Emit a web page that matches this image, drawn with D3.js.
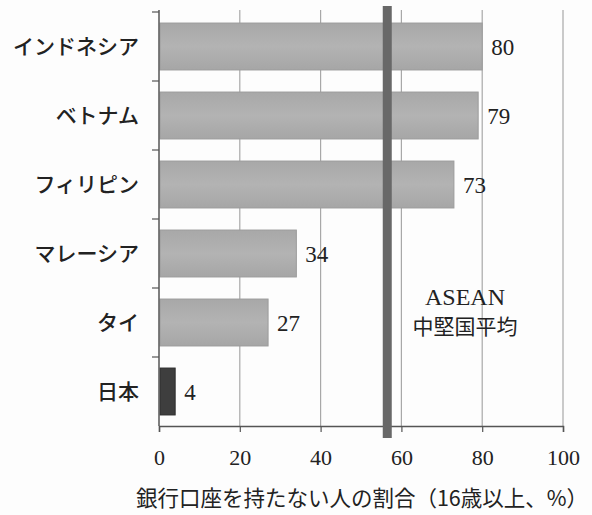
<!DOCTYPE html>
<html>
<head>
<meta charset="utf-8">
<script src="https://cdn.jsdelivr.net/npm/d3@7"></script>
<style>
  html, body { margin: 0; padding: 0; background: #fdfdfd; }
  svg { display: block; }
</style>
</head>
<body>
<svg id="chart" width="592" height="515"></svg>
<script>
// Share of people aged 16+ without a bank account (%)
const countries = ["インドネシア", "ベトナム", "フィリピン", "マレーシア", "タイ", "日本"];
const values = [80, 79, 73, 34, 27, 4];
const highlight = ["日本"];
const aseanAverage = 56.5;
const aseanLabel = ["ASEAN", "中堅国平均"];
const xTicks = [0, 20, 40, 60, 80, 100];
const xTitle = "銀行口座を持たない人の割合（16歳以上、%）";

const svg = d3.select("#chart");
const margin = { left: 159, right: 29, top: 12, bottom: 89 };
const W = 592, H = 515;

const x = d3.scaleLinear().domain([0, 100]).range([margin.left, W - margin.right]);
const y = d3.scaleBand().domain(countries).range([margin.top, H - margin.bottom]).paddingInner(0.32).paddingOuter(0.16);

const serif = "'Liberation Serif', 'DejaVu Serif', serif";
const jp = "'Noto Sans CJK JP', 'Noto Sans', sans-serif";

// vertical gridlines
svg.append("g")
  .selectAll("line")
  .data(xTicks.filter(d => d > 0))
  .join("line")
  .attr("x1", d => x(d)).attr("x2", d => x(d))
  .attr("y1", margin.top - 2).attr("y2", H - margin.bottom)
  .attr("stroke", "#a8a8a8").attr("stroke-width", 1.2);

// bars
const grad = svg.append("defs").append("linearGradient").attr("id", "barGrad")
  .attr("x1", 0).attr("x2", 0).attr("y1", 0).attr("y2", 1);
grad.append("stop").attr("offset", "0%").attr("stop-color", "#a8a8a8");
grad.append("stop").attr("offset", "50%").attr("stop-color", "#b3b3b3");
grad.append("stop").attr("offset", "100%").attr("stop-color", "#a6a6a6");

svg.append("g")
  .selectAll("rect")
  .data(countries)
  .join("rect")
  .attr("x", x(0) + 1)
  .attr("y", d => y(d))
  .attr("width", (d, i) => x(values[i]) - x(0) - 1)
  .attr("height", y.bandwidth())
  .attr("fill", d => highlight.includes(d) ? "#3e3e3e" : "url(#barGrad)")
  .attr("stroke", d => highlight.includes(d) ? "#2e2e2e" : "#9c9c9c")
  .attr("stroke-width", 1);

// value labels
svg.append("g")
  .selectAll("text")
  .data(countries)
  .join("text")
  .attr("x", (d, i) => x(values[i]) + 9)
  .attr("y", d => y(d) + y.bandwidth() / 2)
  .attr("dy", "0.36em")
  .attr("font-family", serif)
  .attr("font-size", 23)
  .attr("fill", "#222")
  .text((d, i) => values[i]);

// x axis
const xAxis = svg.append("g")
  .attr("transform", `translate(0,${H - margin.bottom})`)
  .call(d3.axisBottom(x).tickValues(xTicks).tickSize(6).tickPadding(17).tickFormat(d3.format("d")));
xAxis.select(".domain").attr("stroke", "#555").attr("stroke-width", 1.5);
xAxis.selectAll(".tick line").attr("stroke", "#555").attr("stroke-width", 1.2);
xAxis.selectAll(".tick text")
  .attr("font-family", serif).attr("font-size", 22).attr("fill", "#222");

// y axis
const yAxisScale = d3.scalePoint()
  .domain(d3.range(countries.length + 1))
  .range([margin.top, H - margin.bottom]);
const yAxis = svg.append("g").attr("transform", `translate(${x(0)},0)`);
yAxis.append("line")
  .attr("x1", 0).attr("x2", 0)
  .attr("y1", margin.top - 2).attr("y2", H - margin.bottom)
  .attr("stroke", "#555").attr("stroke-width", 1.5);
yAxis.selectAll("line.tk")
  .data(d3.range(countries.length))
  .join("line").attr("class", "tk")
  .attr("x1", -7).attr("x2", 0)
  .attr("y1", d => yAxisScale(d)).attr("y2", d => yAxisScale(d))
  .attr("stroke", "#555").attr("stroke-width", 1.2);
yAxis.selectAll("text")
  .data(countries)
  .join("text")
  .attr("x", -20)
  .attr("y", d => y(d) + y.bandwidth() / 2)
  .attr("dy", "0.36em")
  .attr("text-anchor", "end")
  .attr("font-family", jp)
  .attr("font-weight", 500)
  .attr("font-size", 21)
  .attr("fill", "#222")
  .text(d => d);

// ASEAN mid-tier average line
svg.append("line")
  .attr("x1", x(aseanAverage)).attr("x2", x(aseanAverage))
  .attr("y1", 6).attr("y2", H - margin.bottom + 12)
  .attr("stroke", "#686868").attr("stroke-width", 9);

svg.append("text")
  .attr("x", 465)
  .attr("y", 305)
  .attr("text-anchor", "middle")
  .attr("font-family", serif)
  .attr("font-size", 24)
  .attr("fill", "#222")
  .text(aseanLabel[0]);
svg.append("text")
  .attr("x", 465)
  .attr("y", 334)
  .attr("text-anchor", "middle")
  .attr("font-family", jp)
  .attr("font-size", 21)
  .attr("fill", "#222")
  .text(aseanLabel[1]);

// axis title
svg.append("text")
  .attr("x", 362)
  .attr("y", 506)
  .attr("text-anchor", "middle")
  .attr("font-family", jp)
  .attr("font-size", 21.5)
  .attr("fill", "#222")
  .text(xTitle);
</script>
</body>
</html>
